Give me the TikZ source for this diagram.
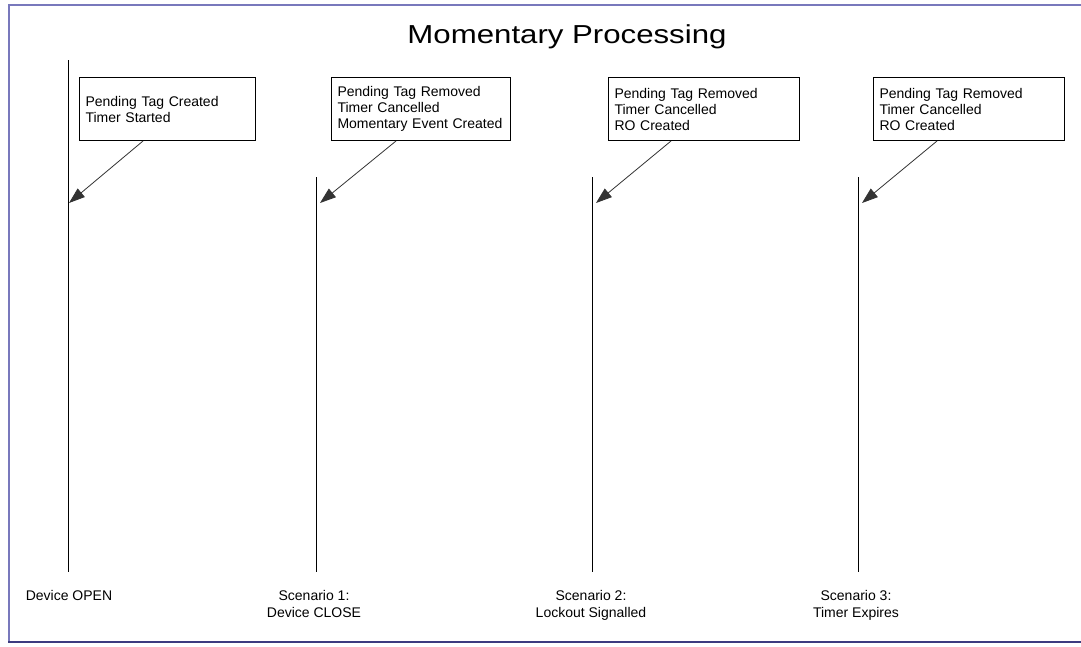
\documentclass[tikz,border=0pt]{standalone}
\usepackage{fontspec}
\setmainfont{Liberation Sans}
\usetikzlibrary{arrows.meta,calc}
\definecolor{frameL}{HTML}{7878BC}
\definecolor{frameD}{HTML}{3C3C80}
\begin{document}
\begin{tikzpicture}[x=1pt,y=-1pt,
  box/.style={draw=black,line width=1pt,inner xsep=6pt,inner ysep=0pt,align=left,
    font=\fontsize{14}{16}\selectfont,minimum height=63pt,anchor=north west},
  lbl/.style={inner sep=0pt,align=center,font=\fontsize{14}{17}\selectfont},
  life/.style={draw=black,line width=1pt},
  msg/.style={draw=black!80,line width=0.8pt,-{Triangle[length=16pt,width=11pt]}}
]
\useasboundingbox (0,0) rectangle (1081,646);
\fill[white] (0,0) rectangle (1081,646);
% frame
\draw[frameL,line width=2pt] (1085,5) -- (9,5) -- (9,642);
\draw[frameD,line width=2pt] (8,642) -- (1085,642);

% title
\node[anchor=base,inner sep=0pt] (title) at (567,43)
  {\scalebox{1.2}[1]{\fontsize{26}{30}\selectfont Momentary Processing}};

% lifelines
\coordinate (l1t) at (68,60);  \coordinate (l1b) at (68,572);
\coordinate (l2t) at (316,177); \coordinate (l2b) at (316,572);
\coordinate (l3t) at (592,177); \coordinate (l3b) at (592,572);
\coordinate (l4t) at (858,177); \coordinate (l4b) at (858,572);
\draw[life] (l1t) -- (l1b);
\draw[life] (l2t) -- (l2b);
\draw[life] (l3t) -- (l3b);
\draw[life] (l4t) -- (l4b);

% boxes
\node[box,text width=164pt] (b1) at (79,77) {Pending Tag Created\\Timer Started};
\node[box,text width=167pt] (b2) at (331,77) {Pending Tag Removed\\Timer Cancelled\\Momentary Event Created};
\node[box,text width=179pt] (b3) at (608,77) {Pending Tag Removed\\Timer Cancelled\\RO Created};
\node[box,text width=179pt] (b4) at (873,77) {Pending Tag Removed\\Timer Cancelled\\RO Created};

% arrows
\coordinate (s1) at ($(b1.south west)+(64,0)$);
\coordinate (s2) at ($(b2.south west)+(65,0)$);
\coordinate (s3) at ($(b3.south west)+(63,0)$);
\coordinate (s4) at ($(b4.south west)+(64,0)$);
\coordinate (t1) at (69,203);
\coordinate (t2) at (320,203);
\coordinate (t3) at (596,203);
\coordinate (t4) at (862,203);
\draw[msg] (s1) -- (t1);
\draw[msg] (s2) -- (t2);
\draw[msg] (s3) -- (t3);
\draw[msg] (s4) -- (t4);

% bottom labels
\node[lbl,anchor=base] (d0) at (69,600) {Device OPEN};
\node[lbl,anchor=north] (d1) at (314,590.5) {Scenario 1:\\Device CLOSE};
\node[lbl,anchor=north] (d2) at (591,590.5) {Scenario 2:\\Lockout Signalled};
\node[lbl,anchor=north] (d3) at (856,590.5) {Scenario 3:\\Timer Expires};
\end{tikzpicture}
\end{document}
